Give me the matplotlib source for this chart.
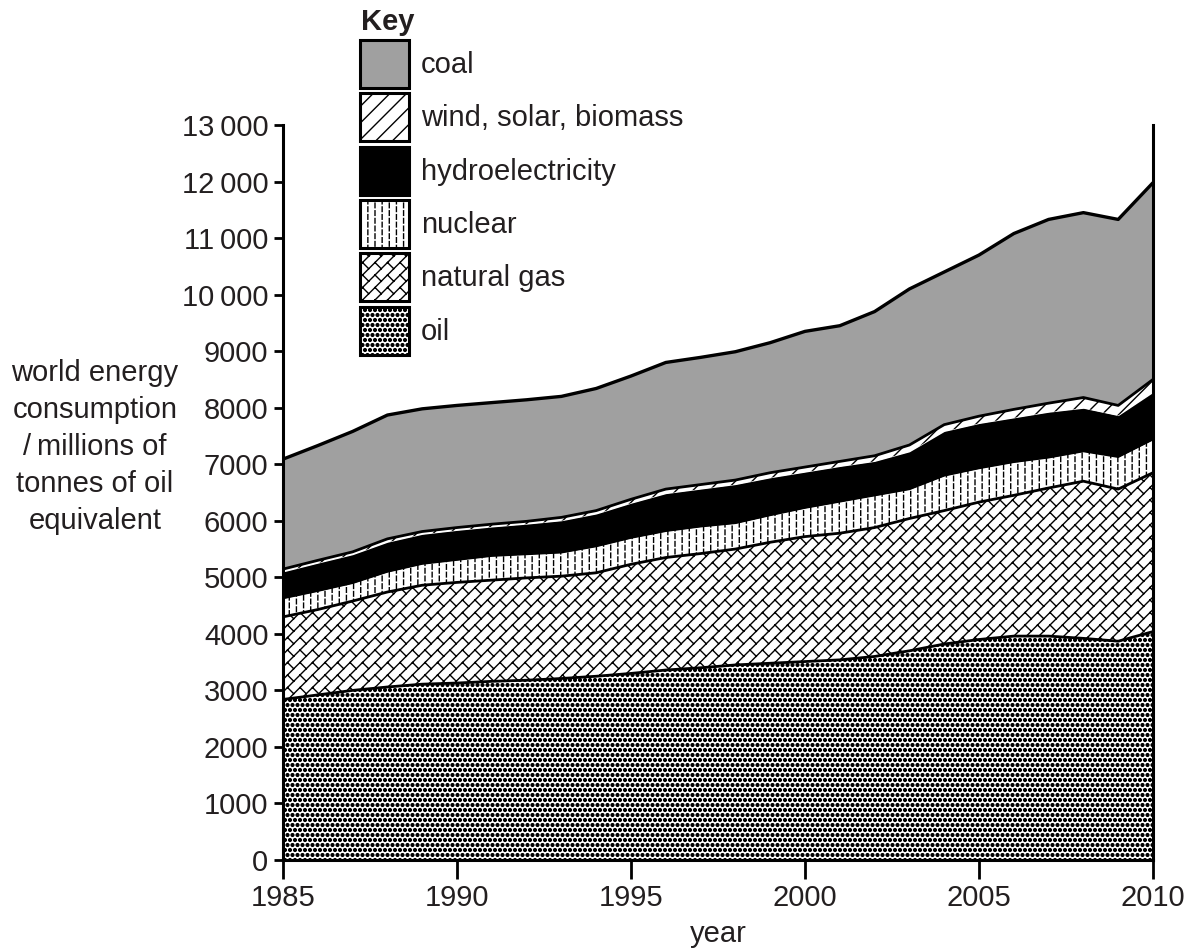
import numpy as np
import matplotlib
matplotlib.use("Agg")
import matplotlib.pyplot as plt
import matplotlib.hatch as mhatch
from matplotlib.patches import Rectangle
from matplotlib.path import Path

# ---------------- data (millions of tonnes of oil equivalent) ----------------
years = [1985, 1986, 1987, 1988, 1989, 1990, 1991, 1992, 1993, 1994, 1995, 1996, 1997,
         1998, 1999, 2000, 2001, 2002, 2003, 2004, 2005, 2006, 2007, 2008, 2009, 2010]
oil = [2840, 2920, 3000, 3060, 3110, 3130, 3160, 3180, 3210, 3250, 3300, 3360, 3400,
       3450, 3480, 3510, 3540, 3600, 3700, 3820, 3900, 3960, 3960, 3920, 3870, 4040]
natural_gas = [1460, 1510, 1580, 1680, 1750, 1780, 1790, 1810, 1810, 1830, 1930, 1990, 2020,
               2050, 2140, 2210, 2240, 2280, 2340, 2360, 2430, 2490, 2620, 2780, 2690, 2810]
nuclear = [330, 330, 320, 360, 380, 400, 430, 420, 420, 470, 470, 470, 480,
           460, 480, 510, 560, 570, 520, 620, 600, 590, 540, 530, 570, 590]
hydro = [465, 490, 500, 520, 520, 520, 510, 530, 560, 570, 610, 660, 660,
         680, 660, 630, 620, 600, 660, 780, 790, 780, 800, 760, 730, 830]
wind_solar_biomass = [50, 50, 50, 60, 50, 50, 50, 50, 60, 60, 70, 80, 80,
                      80, 90, 90, 90, 100, 120, 120, 130, 150, 160, 190, 180, 230]
coal = [1945, 2030, 2130, 2190, 2170, 2160, 2150, 2150, 2140, 2160, 2180, 2240, 2250,
        2270, 2300, 2400, 2400, 2550, 2760, 2700, 2850, 3110, 3250, 3270, 3290, 3480]

series_names = ["oil", "natural gas", "nuclear", "hydroelectricity",
                "wind, solar, biomass", "coal"]
xticks = [1985, 1990, 1995, 2000, 2005, 2010]
yticks = list(range(0, 13001, 1000))
ylabel_text = "world energy\nconsumption\n/\u2009millions of\ntonnes of oil\nequivalent"
xlabel_text = "year"

# ---------------- custom hatch patterns ----------------
class BrickHatch(mhatch.HatchPatternBase):
    """Diagonal brick pattern (used for 'O')."""
    def __init__(self, hatch, density):
        n = 8 * hatch.count('O')
        segs = []
        if n:
            m = n // 2
            for k in range(-n - 3, n + 4):
                c = k / n
                segs.append(((c - 0.2, -0.2), (c + 1.2, 1.2)))
            for k in range(-n - 3, n + 3):
                c0, c1 = k / n, (k + 1) / n
                for j in range(-3, 2 * m + 4):
                    s = j / m + (k % 2) * 0.5 / m
                    p0 = ((s + c0) / 2, (s - c0) / 2)
                    p1 = ((s + c1) / 2, (s - c1) / 2)
                    if all(-0.2 <= v <= 1.2 for v in (*p0, *p1)):
                        segs.append((p0, p1))
        self.segs = segs
        self.num_vertices = 2 * len(segs)

    def set_vertices_and_codes(self, vertices, codes):
        for i, (p0, p1) in enumerate(self.segs):
            vertices[2 * i] = p0
            vertices[2 * i + 1] = p1
            codes[2 * i] = Path.MOVETO
            codes[2 * i + 1] = Path.LINETO


class DashHatch(mhatch.HatchPatternBase):
    """Vertical dashed columns (used for 'o')."""
    def __init__(self, hatch, density):
        cnt = hatch.count('o')
        segs = []
        if cnt:
            ncol = 14 * cnt
            nrow = 13 * cnt
            per = 1.0 / nrow
            dash = 0.6 * per
            for i in range(ncol + 1):
                x = (i + 0.5) / ncol
                off = (i % 2) * per / 2
                for j in range(-1, nrow + 2):
                    y0 = j * per + off
                    segs.append(((x, y0), (x, y0 + dash)))
        self.segs = segs
        self.num_vertices = 2 * len(segs)

    def set_vertices_and_codes(self, vertices, codes):
        for i, (p0, p1) in enumerate(self.segs):
            vertices[2 * i] = p0
            vertices[2 * i + 1] = p1
            codes[2 * i] = Path.MOVETO
            codes[2 * i + 1] = Path.LINETO


class DotHatch(mhatch.Circles):
    """Dense filled dots (used for '.')."""
    size = 0.27
    filled = True

    def __init__(self, hatch, density):
        self.num_rows = 20 * hatch.count('.')
        super().__init__(hatch, density)


_ht = mhatch._hatch_types
_ht[_ht.index(mhatch.SmallFilledCircles)] = DotHatch
_ht[_ht.index(mhatch.SmallCircles)] = DashHatch
_ht[_ht.index(mhatch.LargeCircles)] = BrickHatch

# ---------------- styling ----------------
plt.rcParams['font.family'] = ['Liberation Sans', 'DejaVu Sans']
plt.rcParams['hatch.color'] = 'black'
plt.rcParams['hatch.linewidth'] = 1.0
FS = 21
TXT = '#231f20'
COAL_GREY = '#a0a0a0'

styles = {
    "oil": dict(facecolor='white', hatch='.'),
    "natural gas": dict(facecolor='white', hatch='O'),
    "nuclear": dict(facecolor='white', hatch='o'),
    "hydroelectricity": dict(facecolor='black', hatch=None),
    "wind, solar, biomass": dict(facecolor='white', hatch='//'),
    "coal": dict(facecolor=COAL_GREY, hatch=None),
}

W, H = 1189, 951
fig = plt.figure(figsize=(W / 100, H / 100), dpi=100)
ax = fig.add_axes([283 / W, 1 - 860 / H, (1153 - 283) / W, (860 - 125) / H])

x = np.array(years, dtype=float)
layers = [oil, natural_gas, nuclear, hydro, wind_solar_biomass, coal]
stack = np.vstack([np.zeros(len(years))] + [np.array(l, float) for l in layers])
cum = np.cumsum(stack, axis=0)

for i, name in enumerate(series_names):
    st = styles[name]
    ax.fill_between(x, cum[i], cum[i + 1], facecolor=st['facecolor'],
                    edgecolor='black', linewidth=0, hatch=st['hatch'], zorder=1)

# boundary lines
line_specs = [(1, 2.0), (2, 2.0), (3, 1.5), (5, 2.0), (6, 2.4)]
for idx, lw in line_specs:
    ax.plot(x, cum[idx], color='black', linewidth=lw, zorder=3,
            solid_joinstyle='round', solid_capstyle='butt')

ax.set_xlim(1985, 2010)
ax.set_ylim(0, 13000)
ax.set_xticks(xticks)
ax.set_xticklabels([str(v) for v in xticks], fontsize=FS, color=TXT)
ax.set_yticks(yticks)
ax.set_yticklabels([(f"{v // 1000}\u2009000" if v >= 10000 else str(v)) for v in yticks],
                   fontsize=FS, color=TXT)
ax.spines['top'].set_visible(False)
for s in ['left', 'right', 'bottom']:
    ax.spines[s].set_linewidth(2.2)
    ax.spines[s].set_zorder(5)
ax.tick_params(axis='y', direction='out', length=6.5, width=2.0, pad=4)
ax.tick_params(axis='x', direction='out', length=14, width=2.0, pad=3)
ax.set_facecolor('none')

# overlay axes in pixel coordinates for key and labels
lax = fig.add_axes([0, 0, 1, 1])
lax.set_xlim(0, W)
lax.set_ylim(H, 0)
lax.axis('off')
lax.patch.set_visible(False)

lax.text(361, 22, "Key", fontsize=FS, fontweight='bold', ha='left', va='center',
         color=TXT)
key_order = ["coal", "wind, solar, biomass", "hydroelectricity", "nuclear",
             "natural gas", "oil"]
box_top = 40
pitch = 53.3
for k, name in enumerate(key_order):
    st = styles[name]
    y0 = box_top + k * pitch
    r = Rectangle((360, y0), 49, 48, facecolor=st['facecolor'], edgecolor='black',
                  linewidth=2.2, hatch=st['hatch'], zorder=2)
    lax.add_patch(r)
    lax.text(421, y0 + 25, name, fontsize=FS, ha='left', va='center', color=TXT)

lax.text(95, 447, ylabel_text, fontsize=FS, ha='center', va='center',
         multialignment='center', linespacing=1.42, color=TXT)
lax.text(718, 934, xlabel_text, fontsize=FS, ha='center', va='center', color=TXT)

fig.savefig("out.png", dpi=100)
